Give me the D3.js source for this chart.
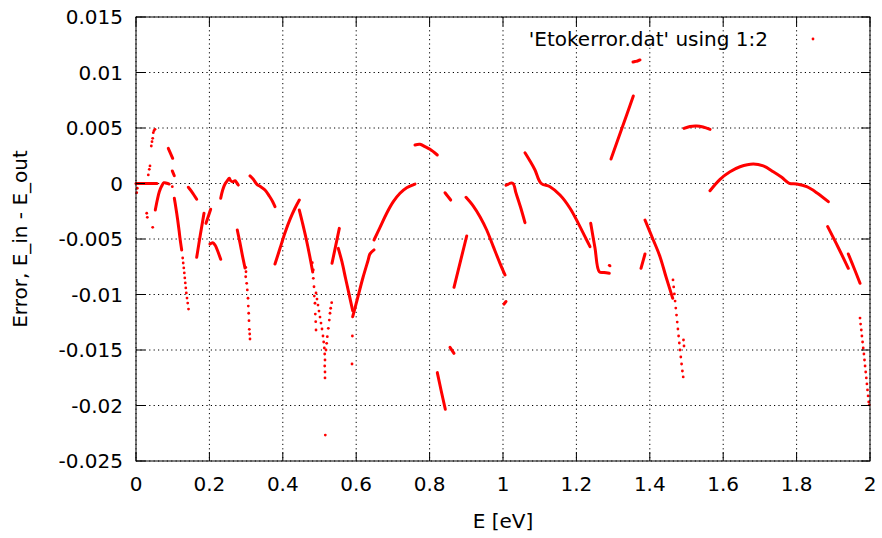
<!DOCTYPE html>
<html>
<head>
<meta charset="utf-8">
<script src="https://cdn.jsdelivr.net/npm/d3@7"></script>
<style>
  body { margin: 0; background: #fff; }
  svg { display: block; }
  text { font-family: "DejaVu Sans", sans-serif; font-size: 20px; fill: #000; }
</style>
</head>
<body>
<svg id="chart" width="882" height="538"></svg>
<script>
// Axis ticks and their labels
const xTicks = [0, 0.2, 0.4, 0.6, 0.8, 1.0, 1.2, 1.4, 1.6, 1.8, 2.0];
const xTickLabels = ["0", "0.2", "0.4", "0.6", "0.8", "1", "1.2", "1.4", "1.6", "1.8", "2"];
const yTicks = [0.015, 0.01, 0.005, 0, -0.005, -0.01, -0.015, -0.02, -0.025];
const yTickLabels = ["0.015", "0.01", "0.005", "0", "-0.005", "-0.01", "-0.015", "-0.02", "-0.025"];

// Densely sampled stretches of (E, error): consecutive samples touch each other
const runs = [
  [[0.0, 0], [0.057, 0]],
  [[0.0526, -0.00239], [0.0580, -0.00149], [0.0635, -0.00074], [0.0700, -0.00023], [0.0763, 0.00007], [0.0837, 0.00002], [0.0907, -0.00005]],
  [[0.0880, 0.00317], [0.1000, 0.00227]],
  [[0.0989, 0.00113], [0.1044, 0.00070]],
  [[0.1044, -0.00133], [0.1082, -0.00209], [0.1136, -0.00329], [0.1172, -0.00419], [0.1199, -0.00494], [0.1245, -0.00599]],
  [[0.1425, -0.00034], [0.1526, -0.00077], [0.1654, -0.00142]],
  [[0.1654, -0.00665], [0.1752, -0.00464], [0.1853, -0.00268]],
  [[0.1907, -0.00359], [0.2035, -0.00232]],
  [[0.2016, -0.00545], [0.2090, -0.00533], [0.2153, -0.00554], [0.2215, -0.00599], [0.2308, -0.00683]],
  [[0.2308, -0.00133], [0.2362, -0.00059], [0.2425, -0.00005], [0.2488, 0.00025], [0.2542, 0.00047], [0.2580, 0.00025], [0.2635, 0.00016], [0.2698, 0.00025], [0.2744, 0.00007], [0.2787, -0.00014]],
  [[0.2760, -0.00419], [0.2834, -0.00536], [0.2902, -0.00653], [0.2970, -0.00761]],
  [[0.3106, 0.00068], [0.3196, 0.00038], [0.3289, -0.00005], [0.3398, -0.00029], [0.3515, -0.00059], [0.3632, -0.00113], [0.3725, -0.00164], [0.3787, -0.00209]],
  [[0.3787, -0.00725], [0.3924, -0.00584], [0.4060, -0.00443], [0.4196, -0.00323], [0.4332, -0.00223], [0.4450, -0.00149]],
  [[0.4450, -0.00239], [0.4537, -0.00356], [0.4632, -0.00491], [0.4728, -0.00644], [0.4815, -0.00797]],
  [[0.5341, -0.00719], [0.5540, -0.00404]],
  [[0.5512, -0.00584], [0.5613, -0.00707], [0.5708, -0.00851], [0.5804, -0.00995], [0.5905, -0.01146]],
  [[0.5905, -0.01200], [0.6049, -0.01018], [0.6185, -0.00847], [0.6322, -0.00694], [0.6376, -0.00634], [0.6485, -0.00598]],
  [[0.6485, -0.00509], [0.6649, -0.00395], [0.6831, -0.00268], [0.7011, -0.00164], [0.7193, -0.00088], [0.7376, -0.00038], [0.7602, -0.00005]],
  [[0.7602, 0.00347], [0.7738, 0.00353], [0.7875, 0.00332], [0.8011, 0.00308], [0.8210, 0.00257]],
  [[0.8420, -0.00083], [0.8575, -0.00149]],
  [[0.8992, -0.00124], [0.9191, -0.00203], [0.9373, -0.00299], [0.9556, -0.00419], [0.9736, -0.00569], [0.9918, -0.00719], [1.0054, -0.00824]],
  [[0.8665, -0.00935], [0.9011, -0.00473]],
  [[1.0027, -0.01086], [1.0082, -0.01063]],
  [[0.8556, -0.01476], [0.8665, -0.01530]],
  [[0.8210, -0.01704], [0.8311, -0.01860], [0.8428, -0.02034]],
  [[1.0082, -0.00016], [1.0264, 0.00002], [1.0354, -0.00086], [1.0477, -0.00212], [1.0599, -0.00353]],
  [[1.0599, 0.00277], [1.0736, 0.00203], [1.0872, 0.00122], [1.1035, 0.00002], [1.1281, -0.00029], [1.1553, -0.00104], [1.1826, -0.00223], [1.2052, -0.00359], [1.2234, -0.00479], [1.2371, -0.00569]],
  [[1.2390, -0.00359], [1.2507, -0.00581], [1.2624, -0.00795], [1.2752, -0.00802], [1.2896, -0.00809]],
  [[1.2943, 0.00221], [1.3243, 0.00500], [1.3551, 0.00788]],
  [[1.3542, 0.01095], [1.3597, 0.01099], [1.3665, 0.01104], [1.3733, 0.01113]],
  [[1.3869, -0.00329], [1.4095, -0.00509], [1.4278, -0.00659], [1.4441, -0.00840], [1.4624, -0.01034]],
  [[1.3760, -0.00764], [1.3869, -0.00635]],
  [[1.4932, 0.00497], [1.5095, 0.00514], [1.5278, 0.00518], [1.5450, 0.00509], [1.5644, 0.00488]],
  [[1.5640, -0.00065], [1.5913, 0.00038], [1.6185, 0.00106], [1.6458, 0.00151], [1.6820, 0.00176], [1.7093, 0.00158], [1.7365, 0.00106], [1.7594, 0.00056], [1.7801, 0.00002], [1.8003, -0.00005], [1.8275, -0.00029], [1.8548, -0.00083], [1.8864, -0.00164]],
  [[1.8847, -0.00389], [1.9128, -0.00572], [1.9409, -0.00764]],
  [[1.9409, -0.00635], [1.9564, -0.00761], [1.9728, -0.00899]]
];

// Sparse samples that show up as separate dots
const dots = [
  [0.0035, -0.00043], [0.0019, -0.00083], [0.0292, -0.00268], [0.0308, -0.00305], [0.0455, -0.00395],
  [0.0335, 0.00077], [0.0362, 0.00128], [0.0381, 0.00158], [0.0417, 0.00338], [0.0436, 0.00377],
  [0.0455, 0.00407], [0.0471, 0.00458], [0.0490, 0.00476], [0.0518, 0.00488], [0.0989, -0.00029],
  [0.1272, -0.00671], [0.1286, -0.00716], [0.1302, -0.00761], [0.1316, -0.00806], [0.1330, -0.00851],
  [0.1343, -0.00896], [0.1357, -0.00941], [0.1371, -0.00986], [0.1390, -0.01032], [0.1409, -0.01077],
  [0.1431, -0.01131],
  [0.2989, -0.00755], [0.2997, -0.00795], [0.2989, -0.00840], [0.3016, -0.00899], [0.3033, -0.00959],
  [0.3052, -0.01034], [0.3060, -0.01104], [0.3071, -0.01169], [0.3079, -0.01236], [0.3087, -0.01314],
  [0.3098, -0.01356], [0.3106, -0.01401],
  [0.4804, -0.00714], [0.4831, -0.00779], [0.4831, -0.00854], [0.4850, -0.00930], [0.4858, -0.01014],
  [0.4877, -0.01079], [0.4886, -0.01176], [0.4897, -0.01245], [0.4905, -0.01320],
  [0.4905, -0.00986], [0.4932, -0.01041], [0.4959, -0.01095], [0.4986, -0.01149], [0.5014, -0.01203],
  [0.5041, -0.01257], [0.5068, -0.01311], [0.5095, -0.01374], [0.5114, -0.01428], [0.5131, -0.01482],
  [0.5142, -0.01536], [0.5150, -0.01590], [0.5142, -0.01644], [0.5150, -0.01698], [0.5150, -0.01752],
  [0.5177, -0.01500], [0.5196, -0.01440], [0.5213, -0.01380], [0.5240, -0.01305], [0.5267, -0.01230],
  [0.5286, -0.01169], [0.5305, -0.01124], [0.5332, -0.01074],
  [0.5158, -0.02266], [0.5896, -0.01374], [0.5886, -0.01626],
  [1.2896, -0.00737], [1.2916, -0.00743],
  [1.4632, -0.00869], [1.4651, -0.00932], [1.4670, -0.00995], [1.4689, -0.01059], [1.4708, -0.01122],
  [1.4728, -0.01185], [1.4747, -0.01248], [1.4766, -0.01311], [1.4785, -0.01374], [1.4804, -0.01437],
  [1.4823, -0.01500], [1.4845, -0.01563], [1.4866, -0.01626], [1.4888, -0.01689], [1.4910, -0.01743],
  [1.4918, -0.01410], [1.4932, -0.01464],
  [1.9728, -0.01212], [1.9744, -0.01266], [1.9763, -0.01320], [1.9779, -0.01374], [1.9798, -0.01428],
  [1.9815, -0.01482], [1.9834, -0.01536], [1.9850, -0.01590], [1.9866, -0.01644], [1.9883, -0.01698],
  [1.9899, -0.01752], [1.9916, -0.01806], [1.9932, -0.01860], [1.9948, -0.01914], [1.9965, -0.01968],
  [1.9978, -0.01995]
];

const legendLabel = "'Etokerror.dat' using 1:2";
const markColor = "#ff0000";

const svg = d3.select("#chart");
const plot = { left: 136, right: 870, top: 17, bottom: 461 };

const x = d3.scaleLinear().domain([0, 2]).range([plot.left, plot.right]);
const y = d3.scaleLinear().domain([-0.025, 0.015]).range([plot.bottom, plot.top]);

// Dotted grid at every major tick
const grid = svg.append("g").attr("stroke", "#000").attr("stroke-width", 1)
  .attr("stroke-dasharray", "1.2,3.2").attr("fill", "none");
xTicks.forEach(t => grid.append("line")
  .attr("x1", x(t)).attr("x2", x(t)).attr("y1", plot.top).attr("y2", plot.bottom));
yTicks.forEach(t => grid.append("line")
  .attr("x1", plot.left).attr("x2", plot.right).attr("y1", y(t)).attr("y2", y(t)));

// Data: continuous stretches as thick strokes, sparse samples as dots
const line = d3.line().x(d => x(d[0])).y(d => y(d[1])).curve(d3.curveCatmullRom);
svg.append("g").selectAll("path").data(runs).join("path")
  .attr("d", line).attr("fill", "none").attr("stroke", markColor)
  .attr("stroke-width", 3).attr("stroke-linecap", "round").attr("stroke-linejoin", "round");
svg.append("g").selectAll("circle").data(dots).join("circle")
  .attr("cx", d => x(d[0])).attr("cy", d => y(d[1])).attr("r", 1.4).attr("fill", markColor);

// Frame with inward tick marks on all four sides
const tickLen = 9;
const axes = svg.append("g").attr("stroke", "#000").attr("stroke-width", 1).attr("fill", "none");
axes.append("rect").attr("x", plot.left).attr("y", plot.top)
  .attr("width", plot.right - plot.left).attr("height", plot.bottom - plot.top);
xTicks.forEach(t => {
  axes.append("line").attr("x1", x(t)).attr("x2", x(t)).attr("y1", plot.bottom).attr("y2", plot.bottom - tickLen);
  axes.append("line").attr("x1", x(t)).attr("x2", x(t)).attr("y1", plot.top).attr("y2", plot.top + tickLen);
});
yTicks.forEach(t => {
  axes.append("line").attr("x1", plot.left).attr("x2", plot.left + tickLen).attr("y1", y(t)).attr("y2", y(t));
  axes.append("line").attr("x1", plot.right).attr("x2", plot.right - tickLen).attr("y1", y(t)).attr("y2", y(t));
});

// Tick labels
svg.append("g").selectAll("text").data(xTicks).join("text")
  .attr("x", d => x(d)).attr("y", plot.bottom + 30).attr("text-anchor", "middle")
  .text((d, i) => xTickLabels[i]);
svg.append("g").selectAll("text").data(yTicks).join("text")
  .attr("x", plot.left - 13).attr("y", d => y(d)).attr("dy", "0.36em").attr("text-anchor", "end")
  .text((d, i) => yTickLabels[i]);

// Axis titles
svg.append("text").attr("x", x(1)).attr("y", 528).attr("text-anchor", "middle").text("E [eV]");
svg.append("text").attr("transform", `translate(27,${(plot.top + plot.bottom) / 2}) rotate(-90)`)
  .attr("text-anchor", "middle").text("Error, E_in - E_out");

// Key
svg.append("text").attr("x", 768).attr("y", 39).attr("dy", "0.36em").attr("text-anchor", "end").text(legendLabel);
svg.append("circle").attr("cx", 813).attr("cy", 39).attr("r", 1.4).attr("fill", markColor);
</script>
</body>
</html>
